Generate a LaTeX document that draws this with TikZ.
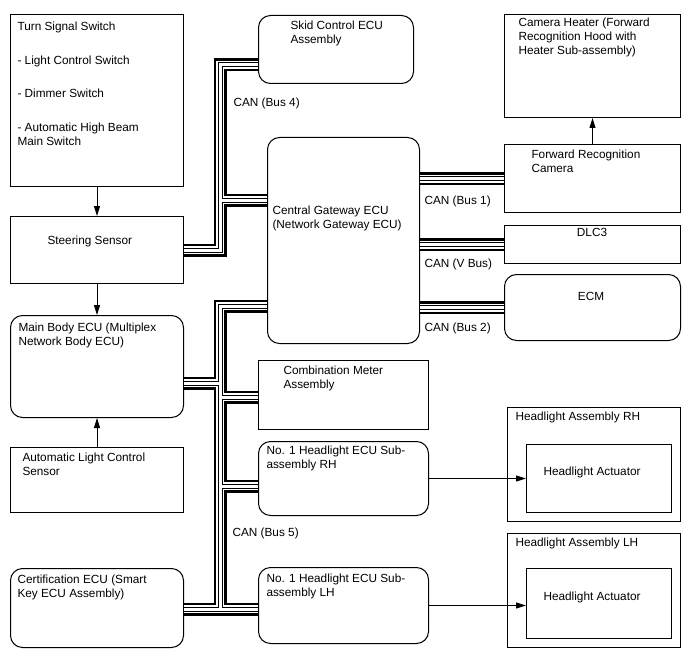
\documentclass[tikz,border=0pt]{standalone}
\usepackage{fontspec}
\setmainfont{Liberation Sans}
\usetikzlibrary{arrows.meta}

\tikzset{
  box/.style={draw, line width=1pt, anchor=north west, inner sep=0pt},
  ecu/.style={box, rounded corners=12pt},
  txt/.style={anchor=north west, inner sep=0pt, align=left, font=\fontsize{11.8}{14}\selectfont},
  canbus/.style={white, line width=3pt,
    preaction={draw, black, line width=13pt},
    preaction={draw, white, line width=8pt},
    preaction={draw, black, line width=5pt}},
}

\begin{document}
\begin{tikzpicture}[x=1pt, y=-1pt, >={Triangle[length=10pt,width=6pt]}, line width=1pt]
        \useasboundingbox (0,0) rectangle (688,658);

        % Left column
        \node[box, minimum width=173pt, minimum height=172pt] (turn) at (10,14) {};
        \node[box, minimum width=173pt, minimum height=67pt] (steer) at (10,216) {};
        \node[ecu, minimum width=173pt, minimum height=102pt] (mb) at (10,315) {};
        \node[box, minimum width=173pt, minimum height=65pt] (als) at (10,447) {};
        \node[ecu, minimum width=173pt, minimum height=79pt] (cert) at (10,568) {};

        % Middle column
        \node[ecu, minimum width=155pt, minimum height=68pt] (skid) at (258,15) {};
        \node[ecu, minimum width=152pt, minimum height=206pt] (gw) at (267,137) {};
        \node[box, minimum width=170pt, minimum height=69pt] (cm) at (258,360) {};
        \node[ecu, minimum width=170pt, minimum height=74pt] (rh) at (258,441) {};
        \node[ecu, minimum width=170pt, minimum height=76pt] (lh) at (258,567) {};

        % Right column
        \node[box, minimum width=176pt, minimum height=103pt] (heat) at (504,14) {};
        \node[box, minimum width=176pt, minimum height=68pt] (cam) at (504,144) {};
        \node[box, minimum width=176pt, minimum height=38pt] (dlc) at (504,225) {};
        \node[ecu, minimum width=176pt, minimum height=66pt] (ecm) at (504,274) {};
        \node[box, minimum width=173pt, minimum height=114pt] (harh) at (507,407) {};
        \node[box, minimum width=145pt, minimum height=68pt] (actrh) at (526,444) {};
        \node[box, minimum width=173pt, minimum height=114pt] (halh) at (507,533) {};
        \node[box, minimum width=145pt, minimum height=70pt] (actlh) at (526,568) {};

        % Bus junctions
        \coordinate (b4top) at (220,65);
        \coordinate (b4gw) at (220,200);
        \coordinate (b5top) at (220,306);
        \coordinate (b5mb) at (220,383);
        \coordinate (b5cm) at (220,397);
        \coordinate (b5rh) at (220,486);
        \coordinate (b5bot) at (220,609);

        % CAN lines
        \draw[canbus]
          (steer.east) -| (b4top) -- (b4top -| skid.west)
          (b4gw) -- (b4gw -| gw.west)
          (gw.west |- b5top) -- (b5top) -- (b5bot)
          (b5mb) -- (b5mb -| mb.east)
          (b5cm) -- (b5cm -| cm.west)
          (b5rh) -- (b5rh -| rh.west)
          (cert.east |- b5bot) -- (b5bot -| lh.west)
          (gw.east |- cam.west) -- (cam.west)
          (gw.east |- dlc.west) -- (dlc.west)
          (gw.east |- ecm.west) -- (ecm.west);

        % Arrows
        \draw[->] (turn.south) -- (steer.north);
        \draw[->] (steer.south) -- (mb.north);
        \draw[->] (als.north) -- (mb.south);
        \draw[->] (cam.north) -- (heat.south);
        \draw[->] (rh.east) -- (actrh.west);
        \draw[->] (lh.east) -- (lh.east -| actlh.west);

        % Texts
        \node[txt] (turnT) at (17,21.5) {Turn Signal Switch\\[19.5pt] - Light Control Switch\\[19.5pt]- Dimmer Switch\\[19.5pt]- Automatic High Beam\\Main Switch};
        \node[txt] (steerT) at (47,235.5) {Steering Sensor};
        \node[txt] (mbT) at (18,322.5) {Main Body ECU (Multiplex\\Network Body ECU)};
        \node[txt] (alsT) at (22,452.5) {Automatic Light Control\\Sensor};
        \node[txt] (certT) at (17,574.5) {Certification ECU (Smart\\Key ECU Assembly)};
        \node[txt] (skidT) at (290,20.5) {Skid Control ECU\\Assembly};
        \node[txt] (gwT) at (272,205.5) {Central Gateway ECU\\(Network Gateway ECU)};
        \node[txt] (cmT) at (283,365.5) {Combination Meter\\Assembly};
        \node[txt] (rhT) at (266,445.5) {No. 1 Headlight ECU Sub-\\assembly RH};
        \node[txt] (lhT) at (266,573.5) {No. 1 Headlight ECU Sub-\\assembly LH};
        \node[txt] (heatT) at (518,17.5) {Camera Heater (Forward\\Recognition Hood with\\Heater Sub-assembly)};
        \node[txt] (camT) at (531,149.5) {Forward Recognition\\Camera};
        \node[txt, anchor=north] (dlcT) at (592,227.5) {DLC3};
        \node[txt, anchor=north] (ecmT) at (591,291.5) {ECM};
        \node[txt] (harhT) at (515,411.5) {Headlight Assembly RH};
        \node[txt] (actrhT) at (543,466.5) {Headlight Actuator};
        \node[txt] (halhT) at (515,537.5) {Headlight Assembly LH};
        \node[txt] (actlhT) at (543,591.5) {Headlight Actuator};

        % Bus labels
        \node[txt] (bus4) at (233,97.5) {CAN (Bus 4)};
        \node[txt] (bus1) at (424,195.5) {CAN (Bus 1)};
        \node[txt] (vbus) at (424,258.5) {CAN (V Bus)};
        \node[txt] (bus2) at (424,322.5) {CAN (Bus 2)};
        \node[txt] (bus5) at (232,527.5) {CAN (Bus 5)};
\end{tikzpicture}
\end{document}
